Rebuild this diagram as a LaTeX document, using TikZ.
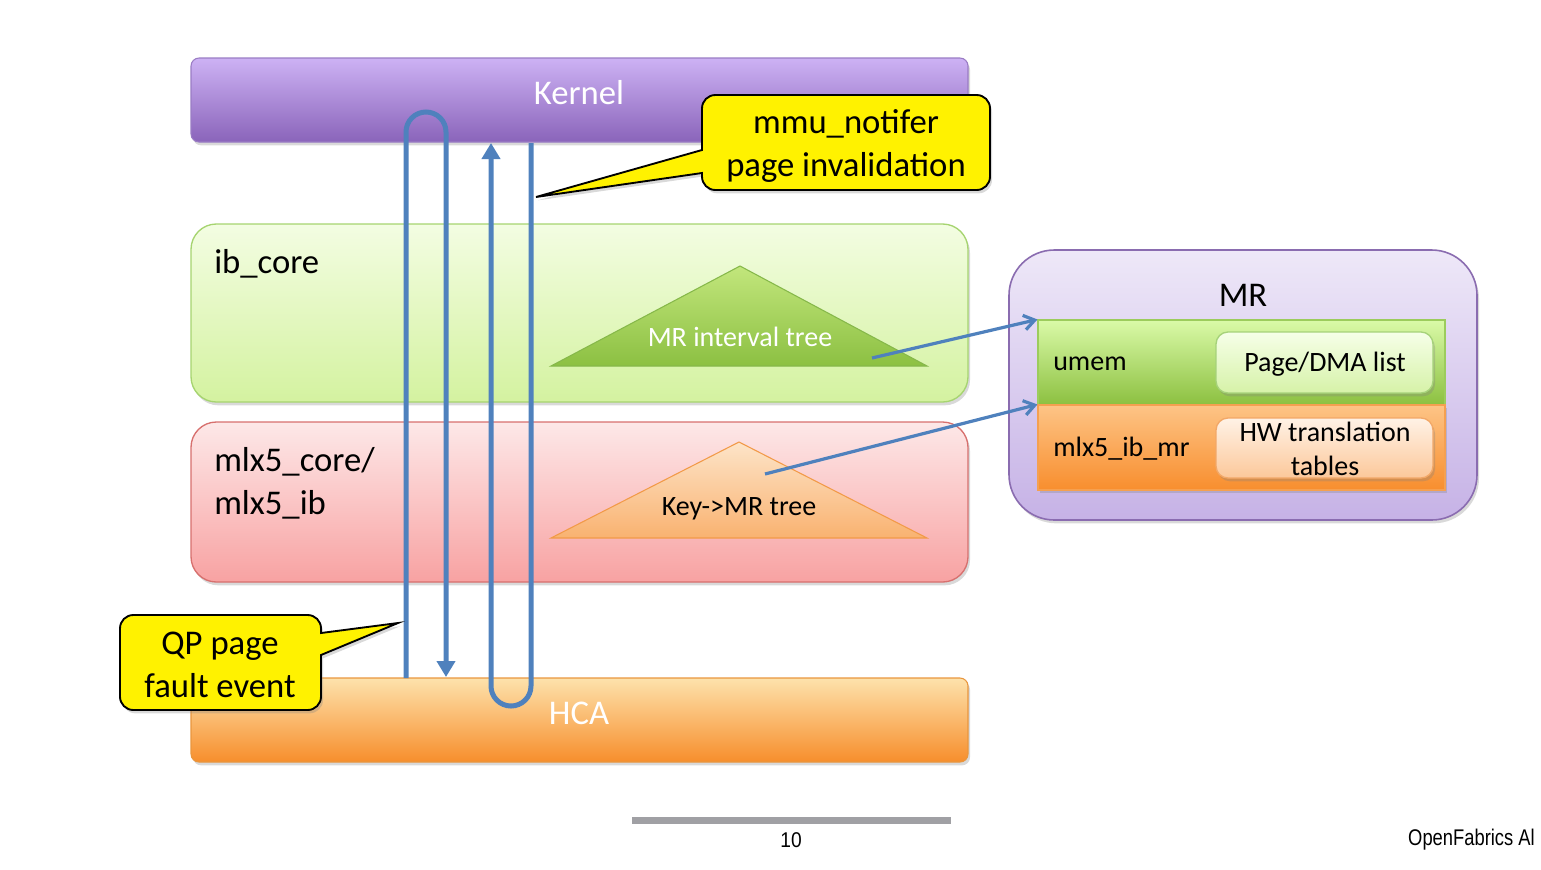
\documentclass[tikz,border=0pt]{standalone}
\usepackage{fontspec}
\setmainfont{Carlito}
\newfontfamily\footfont{Liberation Sans}
\usetikzlibrary{fit,shadows,arrows.meta}
\definecolor{kerneltop}{HTML}{CDB2F4}
\definecolor{kernelbot}{HTML}{8A64BA}
\definecolor{kernelbord}{HTML}{9A7CC4}
\definecolor{ibtop}{HTML}{F3FDE2}
\definecolor{ibbot}{HTML}{D4F2A0}
\definecolor{ibbord}{HTML}{A6D470}
\definecolor{mlxtop}{HTML}{FDE8E8}
\definecolor{mlxbot}{HTML}{F8A2A2}
\definecolor{mlxbord}{HTML}{D7706E}
\definecolor{hcatop}{HTML}{FDE2AC}
\definecolor{hcabot}{HTML}{F78E2C}
\definecolor{hcabord}{HTML}{E9963E}
\definecolor{gtritop}{HTML}{C2E67C}
\definecolor{gtribot}{HTML}{8CC042}
\definecolor{gtribord}{HTML}{86B84A}
\definecolor{otritop}{HTML}{FDE4C8}
\definecolor{otribot}{HTML}{F9B270}
\definecolor{otribord}{HTML}{F29A48}
\definecolor{mrtop}{HTML}{EEE8F8}
\definecolor{mrbot}{HTML}{C6B2E6}
\definecolor{mrbord}{HTML}{8A6CB0}
\definecolor{umtop}{HTML}{DAFAA8}
\definecolor{umbot}{HTML}{8CC040}
\definecolor{umbord}{HTML}{9CCC5C}
\definecolor{mbtop}{HTML}{FDC486}
\definecolor{mbbot}{HTML}{F88E2E}
\definecolor{mbbord}{HTML}{F5A050}
\definecolor{pgtop}{HTML}{F6FFE8}
\definecolor{pgbot}{HTML}{D6F2A8}
\definecolor{pgbord}{HTML}{A6D27A}
\definecolor{hwtop}{HTML}{FFF2E6}
\definecolor{hwbot}{HTML}{FCC89A}
\definecolor{hwbord}{HTML}{F2A868}
\definecolor{flowblue}{HTML}{4F81BD}
\definecolor{footgray}{HTML}{A0A0A4}
\begin{document}
\begin{tikzpicture}[x=0.75pt,y=-0.75pt,
  shadowed/.style={drop shadow={opacity=0.3,shadow xshift=1.5pt,shadow yshift=-2.5pt}},
  bigtext/.style={font=\fontsize{26}{32}\selectfont,inner sep=0pt},
  smalltext/.style={font=\fontsize{21}{25}\selectfont,inner sep=0pt},
  flow/.style={draw=flowblue,line width=3.75pt},
  flowtip/.style={-{Triangle[width=13.5pt,length=12pt]}},
  ptr/.style={draw=flowblue,line width=2.4pt,-{Straight Barb[length=8pt,width=11pt]}},
  callout/.style={fill=yellow,draw=black,line width=1.4pt,shadowed}]
\useasboundingbox (0,0) rectangle (1541,869);

% layer boxes
\node[fit={(191,58)(968,142)},inner sep=0pt,rounded corners=6pt,top color=kerneltop,bottom color=kernelbot,draw=kernelbord,line width=0.8pt,shadowed] (kernel) {};
\node[fit={(191,224)(968,402)},inner sep=0pt,rounded corners=19pt,top color=ibtop,bottom color=ibbot,draw=ibbord,line width=1pt,shadowed] (ibcore) {};
\node[fit={(191,422)(968,582)},inner sep=0pt,rounded corners=19pt,top color=mlxtop,bottom color=mlxbot,draw=mlxbord,line width=1pt,shadowed] (mlx) {};
\node[fit={(191,678)(968,762)},inner sep=0pt,rounded corners=6pt,top color=hcatop,bottom color=hcabot,draw=hcabord,line width=0.8pt,shadowed] (hca) {};

\node[bigtext,text=white] (kerneltxt) at (579,93) {Kernel};
\node[bigtext,text=white] (hcatxt) at (579,713) {HCA};
\node[bigtext,anchor=west] (ibtxt) at (214,264) {ib\_core};
\node[bigtext,anchor=west,align=left] (mlxtxt) at (214,483) {mlx5\_core/\\mlx5\_ib};

% trees
\draw[top color=gtritop,bottom color=gtribot,draw=gtribord,line width=0.8pt] (740,266) -- (927,366) -- (551,366) -- cycle;
\node[smalltext,text=white] (mrtree) at (740,337) {MR interval tree};
\draw[top color=otritop,bottom color=otribot,draw=otribord,line width=0.8pt] (739,442) -- (927,538) -- (551,538) -- cycle;
\node[smalltext] (keytree) at (739,509) {Key->MR tree};

% MR structure
\node[fit={(1009,250)(1477,520)},inner sep=0pt,rounded corners=34pt,top color=mrtop,bottom color=mrbot,draw=mrbord,line width=1.2pt,shadowed] (mrbox) {};
\node[bigtext] (mrtxt) at (1243,295) {MR};
\node[fit={(1038,320)(1445,405)},inner sep=0pt,top color=umtop,bottom color=umbot,draw=umbord,line width=0.8pt] (umem) {};
\node[fit={(1038,405)(1445,490)},inner sep=0pt,top color=mbtop,bottom color=mbbot,draw=mbbord,line width=0.8pt,shadowed] (mlxmr) {};
\node[fit={(1216,332)(1433,393)},inner sep=0pt,rounded corners=9pt,top color=pgtop,bottom color=pgbot,draw=pgbord,line width=1pt,shadowed] (pagebox) {};
\node[fit={(1216,418)(1433,478)},inner sep=0pt,rounded corners=9pt,top color=hwtop,bottom color=hwbot,draw=hwbord,line width=1pt,shadowed] (hwbox) {};
\node[smalltext,anchor=west] (umemtxt) at (1053,364) {umem};
\node[smalltext,anchor=west] (mlxmrtxt) at (1053,449) {mlx5\_ib\_mr};
\node[smalltext] (pagetxt) at (1325,364) {Page/DMA list};
\node[smalltext,align=center] (hwtxt) at (1325,449) {HW translation\\tables};

% pointers from trees to MR
\coordinate (fromtree1) at (872,358);
\coordinate (fromtree2) at (765,474);
\draw[ptr] (fromtree1) -- (umem.north west);
\draw[ptr] (fromtree2) -- (mlxmr.north west);

% fault / invalidation flows
\coordinate (faultstart) at (406,678);
\coordinate (faultend) at (446,677);
\coordinate (invstart) at (531,143);
\coordinate (invend) at (491,143);
\draw[flow,flowtip] (faultstart) -- (406,132) arc[start angle=180,end angle=360,radius=20] -- (faultend);
\draw[flow,flowtip] (invstart) -- (531,686) arc[start angle=0,end angle=180,radius=20] -- (invend);

% callouts
\draw[callout] (846,95) [rounded corners=10pt] -- (990,95) -- (990,190) -- (702,190) [sharp corners] -- (702,173) -- (536,197) -- (702,150) [rounded corners=10pt] -- (702,95) -- cycle;
\node[bigtext,align=center] (mmutxt) at (846,146) {mmu\_notifer\\page invalidation};
\draw[callout] (220,615) [rounded corners=10pt] -- (321,615) [sharp corners] -- (321,633) -- (398,623) -- (321,655) [rounded corners=10pt] -- (321,710) -- (120,710) -- (120,615) -- cycle;
\node[bigtext,align=center] (qptxt) at (220,665) {QP page\\fault event};

% footer
\fill[footgray] (632,817) rectangle (951,824);
\node[font={\footfont\fontsize{16}{18}\selectfont},xscale=0.9,inner sep=0pt] (pagenum) at (791,840) {10};
\begin{scope}
\clip (0,0) rectangle (1541,869);
\node[font={\footfont\fontsize{17}{19}\selectfont},xscale=0.81,anchor=west,inner sep=0pt] (ofa) at (1408,840) {OpenFabrics Al};
\end{scope}
\end{tikzpicture}
\end{document}
